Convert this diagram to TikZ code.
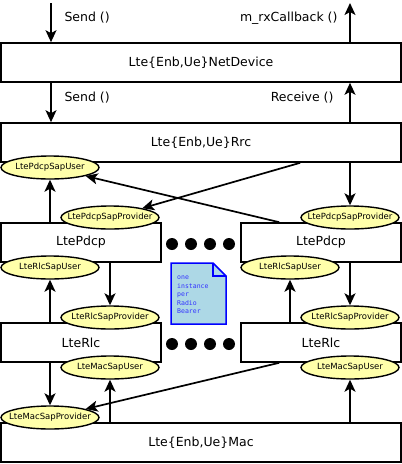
\documentclass[tikz,border=0pt]{standalone}
\usepackage{fontspec}
\setmainfont{DejaVu Sans}
\newfontfamily\notefont{DejaVu Sans Mono}
\usetikzlibrary{shapes, arrows.meta, positioning}

\definecolor{sapyellow}{RGB}{255,255,170}
\definecolor{notefill}{RGB}{173,216,230}
\definecolor{noteink}{RGB}{50,50,255}

\begin{document}
\begin{tikzpicture}[
    x=1pt, y=-1pt,
    layer/.style={rectangle, draw, line width=1.6pt, minimum height=39pt, inner sep=0pt, font=\fontsize{12.5}{14}\selectfont},
    sap/.style={ellipse, draw, line width=1.4pt, fill=sapyellow, minimum width=98pt, minimum height=23pt, inner sep=0pt,
        label={[font=\fontsize{8.5}{10}\selectfont]center:#1}},
    line/.style={draw, line width=1.7pt, -{Stealth[length=12pt, width=11pt, inset=3pt]}},
    call/.style={font=\fontsize{12.5}{14}\selectfont},
    dot/.style={circle, fill=black, minimum size=12pt, inner sep=0pt}
]
\useasboundingbox (0,0) rectangle (402,464);

% Layers
\node [layer, minimum width=400pt] (netdev) at (201,62.5) {Lte\{Enb,Ue\}NetDevice};
\node [layer, minimum width=400pt] (rrc) at (201,142.5) {Lte\{Enb,Ue\}Rrc};
\node [layer, minimum width=160pt] (pdcpL) at (81,242.5) {LtePdcp};
\node [layer, minimum width=160pt] (pdcpR) at (321,242.5) {LtePdcp};
\node [layer, minimum width=160pt] (rlcL) at (81,342.5) {LteRlc};
\node [layer, minimum width=160pt] (rlcR) at (321,342.5) {LteRlc};
\node [layer, minimum width=400pt] (mac) at (201,442.5) {Lte\{Enb,Ue\}Mac};

% SAPs
\node [sap=LtePdcpSapUser] (pdcpUser) at (50,167.5) {};
\node [sap=LtePdcpSapProvider] (pdcpProvL) at (110,217.5) {};
\node [sap=LtePdcpSapProvider] (pdcpProvR) at (350,217.5) {};
\node [sap=LteRlcSapUser] (rlcUserL) at (50,267.5) {};
\node [sap=LteRlcSapUser] (rlcUserR) at (290,267.5) {};
\node [sap=LteRlcSapProvider] (rlcProvL) at (110,317.5) {};
\node [sap=LteRlcSapProvider] (rlcProvR) at (350,317.5) {};
\node [sap=LteMacSapUser] (macUserL) at (110,367.5) {};
\node [sap=LteMacSapUser] (macUserR) at (350,367.5) {};
\node [sap=LteMacSapProvider] (macProv) at (50,417.5) {};

% Dots
\foreach \i/\x in {1/172, 2/191, 3/210, 4/229} {
    \node [dot] (dotA\i) at (\x,244) {};
    \node [dot] (dotB\i) at (\x,344) {};
}

% Note
\filldraw [fill=notefill, draw=blue, line width=1.5pt]
    (171,263) -- (213,263) -- (226,276) -- (226,324) -- (171,324) -- cycle;
\draw [blue, line width=1.5pt] (213,263) -- (213,276) -- (226,276);
\node [anchor=north west, align=left, inner sep=0pt, text=noteink,
    font=\notefont\fontsize{6.5}{8.5}\selectfont] (note) at (177,276) {one\\instance\\per\\Radio\\Bearer};

% Lines
\coordinate (sendIn) at (51,3);
\coordinate (rxOut) at (350,3);
\path [line] (sendIn) -- (sendIn |- netdev.north);
\path [line] (netdev.north -| rxOut) -- (rxOut);
\path [line] (netdev.south -| sendIn) -- (rrc.north -| sendIn);
\path [line] (rrc.north -| rxOut) -- (netdev.south -| rxOut);
\path [line] (rrc.south -| pdcpProvR) -- (pdcpProvR.north);
\path [line] ([xshift=300pt]rrc.south west) -- (pdcpProvL);
\path [line] ([xshift=39pt]pdcpR.north west) -- (pdcpUser);
\path [line] (pdcpL.north -| pdcpUser) -- (pdcpUser.south);
\path [line] (pdcpL.south -| rlcProvL) -- (rlcProvL.north);
\path [line] (rlcL.north -| rlcUserL) -- (rlcUserL.south);
\path [line] (pdcpR.south -| rlcProvR) -- (rlcProvR.north);
\path [line] (rlcR.north -| rlcUserR) -- (rlcUserR.south);
\path [line] (rlcL.south -| macProv) -- (macProv.north);
\path [line] (mac.north -| macUserL) -- (macUserL.south);
\path [line] ([xshift=39pt]rlcR.south west) -- (macProv);
\path [line] (mac.north -| macUserR) -- (macUserR.south);

% Labels
\node [call, anchor=west] (sendA) at (61,18) {Send ()};
\node [call, anchor=east] (rxA) at (341,18) {m\_rxCallback ()};
\node [call, anchor=west] (sendB) at (61,98) {Send ()};
\node [call, anchor=east] (rxB) at (337,98) {Receive ()};

\end{tikzpicture}
\end{document}
